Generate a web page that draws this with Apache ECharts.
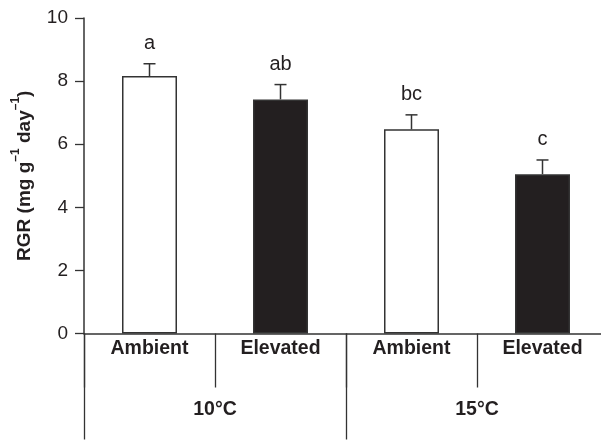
<!DOCTYPE html>
<html><head><meta charset="utf-8">
<script src="https://cdn.jsdelivr.net/npm/echarts@6/dist/echarts.min.js"></script>
<style>html,body{margin:0;padding:0;background:#fff}#c{width:601px;height:441px}</style>
</head><body><div id="c"></div>
<script>
const categories = ['Ambient', 'Elevated', 'Ambient', 'Elevated'];
const groups = ['10°C', '15°C'];
const means = [8.16, 7.42, 6.47, 5.05];
const errors = [0.39, 0.47, 0.46, 0.45];
const letters = ['a', 'ab', 'bc', 'c'];
const yTicks = [0, 2, 4, 6, 8, 10];

const FONT = '"Liberation Sans", Arial, Helvetica, sans-serif';
const INK = '#231f20';
const chart = echarts.init(document.getElementById('c'));
const barColors = ['#ffffff', INK, '#ffffff', INK];

chart.setOption({
  animation: false,
  grid: { left: 84, top: 18, height: 315.5, width: 524, outerBoundsMode: 'none', containLabel: false },
  xAxis: [
    {
      type: 'category', data: categories, position: 'bottom',
      axisLine: { lineStyle: { color: '#333', width: 1.5 } },
      axisTick: { show: true, alignWithLabel: false, length: 54, lineStyle: { color: '#333', width: 1.3 } },
      axisLabel: { margin: 5, fontFamily: FONT, fontSize: 19.5, fontWeight: 'bold', color: INK }
    },
    {
      type: 'category', data: groups, position: 'bottom',
      axisLine: { show: false },
      axisTick: { show: true, alignWithLabel: false, length: 106, lineStyle: { color: '#333', width: 1.3 } },
      axisLabel: { margin: 66, fontFamily: FONT, fontSize: 19.5, fontWeight: 'bold', color: INK }
    }
  ],
  yAxis: {
    type: 'value', min: 0, max: 10, interval: 2,
    name: '{m|RGR (mg g}{s|–1}{m| day}{s|–1}{m|)}',
    nameLocation: 'middle', nameGap: 50, nameRotate: 90,
    nameTextStyle: {
      rich: {
        m: { fontFamily: FONT, fontSize: 19, fontWeight: 'bold', color: INK, lineHeight: 24, verticalAlign: 'bottom' },
        s: { fontFamily: FONT, fontSize: 12, fontWeight: 'bold', color: INK, lineHeight: 24, verticalAlign: 'top', padding: [0, 0, 6, 0] }
      }
    },
    axisLine: { show: true, lineStyle: { color: '#333', width: 1.5 } },
    axisTick: { show: true, inside: false, length: 9, lineStyle: { color: '#333', width: 1.3 } },
    splitLine: { show: false },
    axisLabel: { margin: 16, fontFamily: FONT, fontSize: 19, color: INK,
      formatter: v => yTicks.includes(v) ? String(v) : '' }
  },
  series: [
    {
      type: 'bar', xAxisIndex: 0, barWidth: 55,
      data: means.map((v, i) => ({ value: v, itemStyle: { color: barColors[i], borderColor: '#333', borderWidth: 1.5 } }))
    },
    {
      type: 'custom', xAxisIndex: 0, z: 5,
      data: means.map((v, i) => [i, v, errors[i], letters[i]]),
      renderItem: function (params, api) {
        const i = api.value(0);
        const m = api.value(1);
        const e = api.value(2);
        const base = api.coord([i, m]);
        const top = api.coord([i, m + e]);
        const ls = { stroke: '#333', lineWidth: 1.5 };
        return {
          type: 'group',
          children: [
            { type: 'line', shape: { x1: base[0], y1: base[1], x2: top[0], y2: top[1] }, style: ls },
            { type: 'line', shape: { x1: top[0] - 6, y1: top[1], x2: top[0] + 6, y2: top[1] }, style: ls },
            { type: 'text', style: { text: letters[params.dataIndex], x: top[0], y: top[1] - 10,
              align: 'center', verticalAlign: 'bottom', fontFamily: FONT, fontSize: 20, fill: INK } }
          ]
        };
      }
    }
  ]
});
</script></body></html>
